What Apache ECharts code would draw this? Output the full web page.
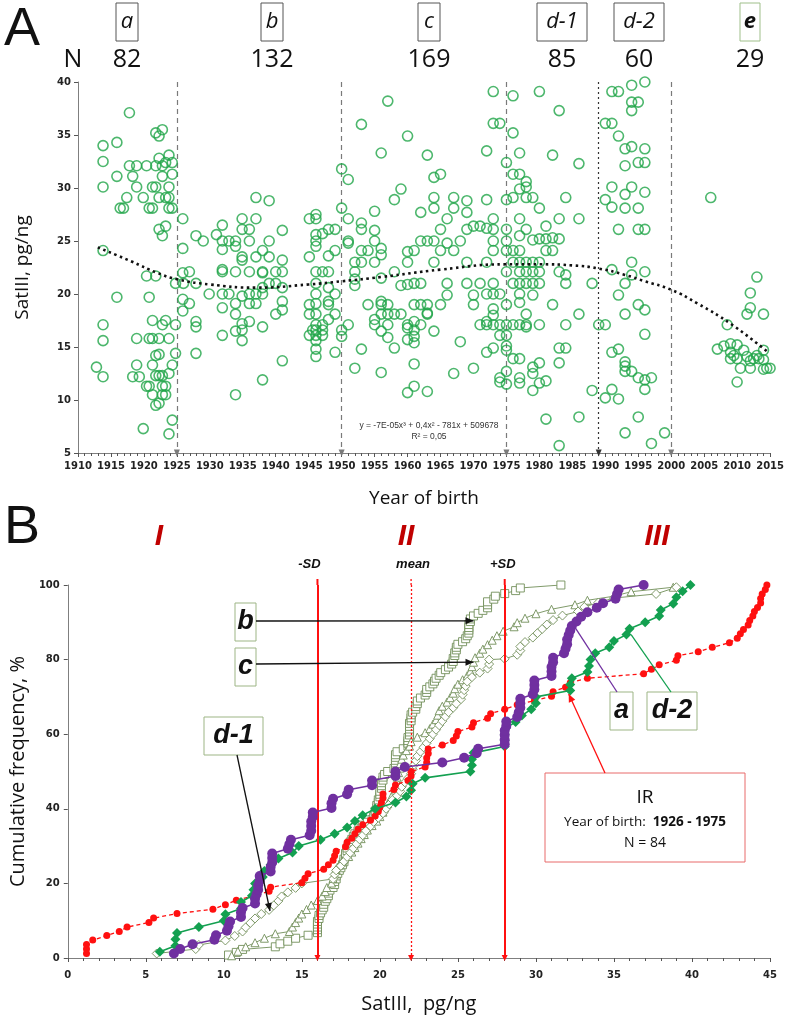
<!DOCTYPE html>
<html><head><meta charset="utf-8">
<script src="https://cdn.jsdelivr.net/npm/echarts@6/dist/echarts.min.js"></script>
<style>html,body{margin:0;padding:0;background:#fff}#c{width:787px;height:1015px}</style>
</head><body><div id="c"></div>
<script>
// ---------- Panel A data: [year of birth, SatIII pg/ng] ----------
var groupA = [[1912.8,13.1],[1913.8,12.2],[1913.8,15.6],[1913.8,17.1],[1913.8,24.1],[1913.8,30.1],[1913.8,32.5],[1913.8,34.0],[1915.9,34.3],[1915.9,31.1],[1915.9,19.7],[1916.4,28.1],[1916.9,28.1],[1917.4,29.1],[1917.8,37.1],[1917.8,32.1],[1918.3,12.2],[1918.9,32.1],[1918.3,31.1],[1918.9,30.1],[1918.9,13.3],[1918.9,15.8],[1919.3,12.2],[1919.9,29.1],[1919.9,7.3],[1920.4,32.1],[1920.4,21.7],[1920.4,11.3],[1920.8,11.3],[1920.8,28.1],[1920.8,19.7],[1920.8,15.8],[1921.3,28.1],[1921.3,30.1],[1921.3,17.5],[1921.3,15.8],[1921.3,13.3],[1921.3,10.5],[1921.8,32.1],[1921.8,35.2],[1921.8,30.1],[1921.8,21.7],[1921.8,14.2],[1921.8,12.3],[1921.8,9.5],[1922.3,34.9],[1922.3,32.8],[1922.3,29.1],[1922.3,26.1],[1922.3,15.8],[1922.3,14.3],[1922.3,12.3],[1922.3,9.7],[1922.8,35.5],[1922.8,32.1],[1922.8,31.1],[1922.8,25.5],[1922.8,17.1],[1922.8,12.3],[1922.8,11.3],[1922.8,10.5],[1923.3,32.4],[1923.3,29.1],[1923.3,26.4],[1923.3,17.5],[1923.3,11.3],[1923.3,10.5],[1923.8,33.1],[1923.8,30.1],[1923.8,28.1],[1923.8,29.1],[1923.8,15.8],[1923.8,12.5],[1923.8,6.8],[1924.3,32.4],[1924.3,31.3],[1924.3,28.1],[1924.3,13.3],[1924.3,8.1],[1924.8,21.0],[1924.8,17.1],[1924.8,14.4]];
var groupB = [[1925.9,27.1],[1925.9,24.3],[1925.9,22.0],[1925.9,19.5],[1925.9,18.4],[1926.0,21.0],[1926.9,22.1],[1926.9,19.1],[1927.9,25.5],[1927.9,21.0],[1927.9,17.4],[1927.9,16.9],[1927.9,14.4],[1929.0,25.0],[1929.9,20.0],[1931.0,25.6],[1931.9,26.5],[1931.9,25.0],[1931.9,24.2],[1931.9,22.3],[1931.9,22.1],[1931.9,20.0],[1931.9,18.7],[1931.9,16.1],[1932.9,25.0],[1932.9,20.0],[1933.9,25.0],[1933.9,24.5],[1933.9,22.1],[1933.9,19.1],[1933.9,18.1],[1933.9,16.5],[1933.9,10.5],[1934.9,27.1],[1934.9,26.1],[1934.9,23.5],[1934.9,23.2],[1934.9,19.8],[1934.9,17.2],[1934.9,16.6],[1934.9,15.6],[1936.0,26.1],[1936.0,25.0],[1936.0,22.1],[1936.0,20.0],[1936.0,19.1],[1936.0,17.4],[1937.0,29.1],[1937.0,27.1],[1937.0,23.5],[1937.0,20.0],[1937.0,19.1],[1938.0,24.1],[1938.0,22.1],[1938.0,22.0],[1938.0,20.6],[1938.0,20.0],[1938.0,16.9],[1938.0,11.9],[1939.0,28.8],[1939.0,25.0],[1939.0,23.5],[1939.0,21.0],[1940.0,22.1],[1940.0,21.0],[1940.0,18.1],[1941.0,26.0],[1941.0,23.2],[1941.0,22.1],[1941.0,20.6],[1941.0,19.3],[1941.0,18.5],[1941.0,13.7],[1945.1,27.1],[1945.1,23.5],[1945.1,18.1],[1945.1,16.1],[1945.6,16.6],[1945.1,19.0],[1946.1,27.5],[1946.1,27.1],[1946.1,25.6],[1946.1,25.0],[1946.1,24.5],[1946.1,22.1],[1946.1,21.0],[1946.1,20.0],[1946.1,19.1],[1946.1,18.1],[1946.1,17.1],[1946.1,16.6],[1946.1,16.1],[1946.1,15.6],[1946.1,14.8],[1946.1,14.1],[1947.1,17.1],[1947.1,16.6],[1947.1,16.1],[1947.1,25.7],[1947.1,22.1],[1948.0,23.6],[1948.0,22.1],[1948.0,20.6],[1948.0,19.3],[1948.0,19.0],[1948.0,17.6],[1948.0,26.1],[1949.0,26.1],[1949.0,24.1],[1949.0,20.0],[1949.0,18.1],[1949.0,14.5]];
var groupC = [[1950,31.8],[1951,30.8],[1950,28.1],[1951,27.1],[1951,25.0],[1951,24.8],[1952,23.0],[1952,22.1],[1952,21.4],[1952,20.8],[1951,17.1],[1950,16.6],[1950,16.0],[1952,13.0],[1953,36.0],[1953,26.7],[1953,26.1],[1953,24.1],[1953,23.0],[1954,24.1],[1954,19.0],[1953,14.8],[1955,27.8],[1955,26.0],[1955,25.0],[1955,23.0],[1955,17.6],[1955,17.1],[1956,33.3],[1956,24.3],[1956,23.7],[1956,21.5],[1956,19.3],[1956,19.0],[1956,18.1],[1956,16.5],[1956,12.6],[1957,38.2],[1957,19.0],[1957,18.1],[1957,17.1],[1957,15.9],[1958,28.9],[1958,22.1],[1958,18.1],[1958,14.9],[1959,29.9],[1959,20.8],[1959,18.1],[1960,34.9],[1960,24.0],[1960,23.0],[1960,20.9],[1960,17.1],[1960,16.8],[1960,15.7],[1960,10.7],[1961,24.1],[1961,21.0],[1961,19.0],[1961,17.4],[1961,16.6],[1961,16.0],[1961,15.4],[1961,13.4],[1961,11.3],[1962,27.7],[1962,25.0],[1962,21.0],[1962,19.0],[1962,17.1],[1963,33.1],[1963,25.0],[1963,19.0],[1963,18.2],[1963,18.1],[1963,10.8],[1964,31.0],[1964,29.1],[1964,28.1],[1964,25.0],[1964,23.0],[1964,16.5],[1965,31.3],[1965,26.1],[1965,24.1],[1965,19.0],[1966,27.1],[1966,24.8],[1966,21.0],[1966,19.9],[1967,29.1],[1967,28.1],[1967,24.1],[1967,12.5],[1968,25.0],[1968,15.5],[1969,28.8],[1969,27.7],[1969,26.1],[1969,23.0],[1969,21.0],[1970,26.4],[1970,19.9],[1970,19.0],[1970,13.0],[1971,26.4],[1971,21.0],[1971,17.1],[1972,33.5],[1972,28.9],[1972,26.2],[1972,23.0],[1972,20.0],[1972,17.4],[1972,17.1],[1972,14.5],[1973,39.1],[1973,36.1],[1973,27.1],[1973,26.1],[1973,25.0],[1973,24.1],[1973,21.0],[1973,20.0],[1973,18.6],[1973,18.0],[1973,17.1],[1973,14.9],[1974,36.1],[1974,20.0],[1974,17.1],[1974,16.1],[1974,12.1],[1974,11.7]];
var groupD1 = [[1975,32.4],[1975,28.9],[1975,26.1],[1975,25.0],[1975,24.1],[1975,22.1],[1975,19.0],[1975,17.1],[1975,16.1],[1975,15.1],[1975,14.7],[1975,12.7],[1975,11.5],[1976,38.7],[1976,35.2],[1976,31.3],[1976,29.1],[1976,24.1],[1976,23.0],[1976,21.0],[1976,17.1],[1976,13.9],[1977,33.3],[1977,31.3],[1977,29.9],[1977,27.1],[1977,25.5],[1977,24.1],[1977,23.0],[1977,22.1],[1977,21.0],[1977,20.0],[1977,19.2],[1977,17.1],[1977,13.9],[1977,12.1],[1977,11.6],[1978,30.6],[1978,30.1],[1978,29.1],[1978,26.1],[1978,23.0],[1978,22.1],[1978,21.0],[1978,18.1],[1978,17.1],[1978,16.9],[1979,29.1],[1979,25.1],[1979,23.0],[1979,22.1],[1979,21.0],[1979,19.9],[1979,13.1],[1979,12.5],[1979,10.9],[1980,39.1],[1980,28.1],[1980,25.2],[1980,23.0],[1980,22.1],[1980,21.0],[1980,17.1],[1980,13.5],[1980,11.6],[1981,26.4],[1981,25.2],[1981,24.1],[1981,11.8],[1981,8.2],[1982,33.1],[1982,25.3],[1982,24.1],[1982,19.0],[1983,37.3],[1983,27.1],[1983,25.2],[1983,22.1],[1983,14.9],[1983,13.5],[1983,5.7],[1984,29.1],[1984,21.8],[1984,21.0],[1984,17.1],[1984,14.9],[1986,32.3],[1986,27.1],[1986,18.1],[1986,8.4],[1988,21.0],[1988,10.9],[1989,17.1]];
var groupD2 = [[1990,36.1],[1990,17.1],[1990,10.2],[1990,28.9],[1991,39.1],[1991,36.1],[1991,30.1],[1991,28.2],[1991,22.3],[1991,14.5],[1991,11.0],[1992,39.1],[1992,34.9],[1992,26.1],[1992,19.9],[1992,14.8],[1992,10.1],[1993,33.7],[1993,32.1],[1993,29.4],[1993,28.1],[1993,21.0],[1993,18.1],[1993,13.6],[1993,13.2],[1993,12.7],[1993,6.9],[1994,39.7],[1994,38.1],[1994,37.3],[1994,33.9],[1994,30.1],[1994,23.0],[1994,21.8],[1994,12.7],[1995,38.1],[1995,32.4],[1995,28.1],[1995,26.1],[1995,19.0],[1995,12.1],[1995,8.4],[1996,40.0],[1996,33.7],[1996,32.4],[1996,29.6],[1996,26.1],[1996,22.1],[1996,18.5],[1996,16.2],[1996,11.9],[1996,11.0],[1997,12.1],[1997,5.9],[1999,6.9]];
var groupE = [[2006.0,29.1],[2013.0,21.6],[2012.0,20.1],[2012.0,18.7],[2011.5,18.1],[2014.0,18.1],[2008.5,17.1],[2007.0,14.8],[2008.0,15.1],[2009.0,15.3],[2010.0,15.2],[2009.0,14.5],[2011.0,14.7],[2009.5,14.2],[2009.0,13.9],[2010.0,13.9],[2011.5,14.1],[2012.0,13.7],[2012.5,13.9],[2013.0,14.2],[2013.3,13.9],[2014.0,14.7],[2014.0,13.8],[2010.5,13.0],[2012.0,13.0],[2014.0,12.9],[2014.5,13.0],[2015.0,13.0],[2010.0,11.7]];
var trendLine = [[1913,24.4],[1918,23.1],[1922,22.0],[1925,21.4],[1930,20.9],[1937,20.6],[1945,20.9],[1950,21.2],[1956,21.6],[1965,22.3],[1975,22.8],[1980,22.8],[1985,22.7],[1989,22.4],[1993,21.8],[1996,21.2],[2000,20.4],[2004,19.1],[2009,17.2],[2014.5,14.6]];
var groupBounds = [1925, 1950, 1975, 1989, 2000];
var groupNames = ['a', 'b', 'c', 'd-1', 'd-2', 'e'];
var groupN = ['82', '132', '169', '85', '60', '29'];
var yearTicks = {min: 1910, max: 2015, step: 5};
var satTicks = {min: 5, max: 40, step: 5};

// ---------- Panel B data: [SatIII pg/ng, cumulative frequency %] ----------
var cumIR = [[1.2,1.2],[1.2,2.4],[1.2,3.6],[1.6,4.8],[2.5,6.0],[3.3,7.1],[3.8,8.3],[5.2,9.5],[5.5,10.7],[7.0,11.9],[9.3,13.1],[10.1,14.3],[10.8,15.5],[12.0,16.7],[12.9,17.9],[13.0,19.0],[15.0,20.2],[15.2,21.4],[15.4,22.6],[16.4,23.8],[16.7,25.0],[17.0,26.2],[17.1,27.4],[17.2,28.6],[17.8,29.8],[17.9,31.0],[18.2,32.1],[18.4,33.3],[18.6,34.5],[18.9,35.7],[19.4,36.9],[19.7,38.1],[19.9,39.3],[20.0,40.5],[20.1,41.7],[20.2,42.9],[20.2,44.0],[20.9,45.2],[21.0,46.4],[21.8,47.6],[22.0,48.8],[22.0,50.0],[22.9,51.2],[23.0,52.4],[23.0,53.6],[23.1,54.8],[23.1,56.0],[24.0,57.1],[24.7,58.3],[24.9,59.5],[25.0,60.7],[25.9,61.9],[26.0,63.1],[26.9,64.3],[27.1,65.5],[28.0,66.7],[28.8,67.9],[29.9,69.0],[31.0,70.2],[31.1,71.4],[31.9,72.6],[32.2,73.8],[33.3,75.0],[36.9,76.2],[37.4,77.4],[37.9,78.6],[39.0,79.8],[39.1,81.0],[40.4,82.1],[41.3,83.3],[42.4,84.5],[42.9,85.7],[43.1,86.9],[43.3,88.1],[43.6,89.3],[43.7,90.5],[43.9,91.7],[44.0,92.9],[44.2,94.0],[44.4,95.2],[44.4,96.4],[44.5,97.6],[44.7,98.8],[44.8,100]];
var cumA = [[6.8,1.2],[7.2,2.4],[8.0,3.7],[9.4,4.9],[9.5,6.1],[10.2,7.3],[10.3,8.5],[10.4,9.8],[11.1,11.0],[11.1,12.2],[11.2,13.4],[12.0,14.6],[12.0,15.9],[12.1,17.1],[12.2,18.3],[12.2,19.5],[12.3,20.7],[12.3,22.0],[13.0,23.2],[13.0,24.4],[13.1,25.6],[13.1,26.8],[13.1,28.0],[14.1,29.3],[14.2,30.5],[14.3,31.7],[15.5,32.9],[15.6,34.1],[15.6,35.4],[15.6,36.6],[15.7,37.8],[15.7,39.0],[16.9,40.2],[16.9,41.5],[17.0,42.7],[17.9,43.9],[18.0,45.1],[19.5,46.3],[19.5,47.6],[21.0,48.8],[21.0,50.0],[21.6,51.2],[24.0,52.4],[25.4,53.7],[26.2,54.9],[26.3,56.1],[28.0,57.3],[28.0,58.5],[28.0,59.8],[28.0,61.0],[28.1,62.2],[28.1,63.4],[28.8,64.6],[28.9,65.9],[29.0,67.1],[29.0,68.3],[29.0,69.5],[29.8,70.7],[29.9,72.0],[29.9,73.2],[29.9,74.4],[31.0,75.6],[31.0,76.8],[31.0,78.0],[31.1,79.3],[31.1,80.5],[31.8,81.7],[31.9,82.9],[32.0,84.1],[32.0,85.4],[32.1,86.6],[32.2,87.8],[32.3,89.0],[32.6,90.2],[32.9,91.5],[33.3,92.7],[33.9,93.9],[34.3,95.1],[35.1,96.3],[35.2,97.6],[35.3,98.8],[36.9,100]];
var cumD2 = [[5.9,1.7],[6.9,3.3],[6.9,5.0],[7.0,6.7],[8.4,8.3],[10.0,10.0],[10.1,11.7],[11.1,13.3],[11.1,15.0],[11.8,16.7],[11.9,18.3],[12.0,20.0],[12.5,21.7],[12.6,23.3],[13.0,25.0],[13.5,26.7],[14.4,28.3],[14.8,30.0],[16.2,31.7],[17.1,33.3],[17.9,35.0],[18.4,36.7],[18.9,38.3],[19.7,40.0],[21.0,41.7],[21.7,43.3],[22.0,45.0],[22.1,46.7],[22.9,48.3],[25.8,50.0],[25.9,51.7],[25.9,53.3],[26.0,55.0],[28.0,56.7],[28.0,58.3],[28.0,60.0],[28.1,61.7],[28.7,63.3],[29.1,65.0],[29.7,66.7],[30.0,68.3],[30.0,70.0],[32.2,71.7],[32.2,73.3],[32.3,75.0],[33.3,76.7],[33.4,78.3],[33.5,80.0],[33.8,81.7],[34.7,83.3],[35.0,85.0],[35.8,86.7],[36.0,88.3],[37.0,90.0],[37.9,91.7],[38.0,93.3],[38.8,95.0],[39.0,96.7],[39.4,98.3],[39.9,100]];
var cumB = [[10.3,0.8],[10.8,1.5],[11.2,2.3],[13.3,3.0],[13.6,3.8],[14.1,4.5],[14.6,5.3],[15.4,6.1],[16.0,6.8],[16.0,7.6],[16.0,8.3],[16.0,9.1],[16.0,9.8],[16.1,10.6],[16.1,11.4],[16.2,12.1],[16.3,12.9],[16.4,13.6],[16.4,14.4],[16.5,15.2],[16.6,15.9],[16.7,16.7],[16.7,17.4],[16.8,18.2],[17.0,18.9],[17.1,19.7],[17.1,20.5],[17.2,21.2],[17.2,22.0],[17.3,22.7],[17.4,23.5],[17.5,24.2],[17.6,25.0],[17.7,25.8],[17.7,26.5],[17.8,27.3],[17.8,28.0],[17.9,28.8],[17.9,29.5],[18.0,30.3],[18.1,31.1],[18.2,31.8],[18.3,32.6],[18.4,33.3],[18.6,34.1],[18.8,34.8],[18.9,35.6],[19.2,36.4],[19.5,37.1],[19.6,37.9],[19.7,38.6],[19.7,39.4],[19.8,40.2],[19.8,40.9],[19.9,41.7],[19.9,42.4],[20.0,43.2],[20.0,43.9],[20.0,44.7],[20.1,45.5],[20.1,46.2],[20.1,47.0],[20.2,47.7],[20.2,48.5],[20.3,49.2],[20.5,50.0],[20.9,50.8],[21.0,51.5],[21.0,52.3],[21.0,53.0],[21.0,53.8],[21.0,54.5],[21.1,55.3],[21.5,56.1],[21.8,56.8],[21.8,57.6],[21.8,58.3],[21.8,59.1],[21.9,59.8],[21.9,60.6],[21.9,61.4],[21.9,62.1],[21.9,62.9],[22.0,63.6],[22.0,64.4],[22.0,65.2],[22.1,65.9],[22.3,66.7],[22.3,67.4],[22.4,68.2],[22.4,68.9],[22.6,69.7],[22.9,70.5],[23.0,71.2],[23.0,72.0],[23.2,72.7],[23.4,73.5],[23.5,74.2],[23.6,75.0],[23.8,75.8],[23.9,76.5],[24.2,77.3],[24.4,78.0],[24.6,78.8],[24.7,79.5],[24.7,80.3],[24.8,81.1],[24.8,81.8],[24.9,82.6],[24.9,83.3],[25.0,84.1],[25.3,84.8],[25.5,85.6],[25.6,86.4],[25.7,87.1],[25.7,87.9],[25.7,88.6],[25.7,89.4],[25.8,90.2],[25.8,90.9],[26.0,91.7],[26.3,92.4],[26.6,93.2],[26.9,93.9],[26.9,94.7],[26.9,95.5],[27.3,96.2],[27.4,97.0],[28.0,97.7],[28.7,98.5],[29.0,99.2],[31.6,100]];
var cumC = [[10.5,0.6],[10.9,1.8],[11.4,3.0],[12.0,4.1],[12.6,5.3],[13.3,6.5],[14.2,7.1],[14.4,8.3],[14.6,9.5],[14.8,10.7],[15.0,11.8],[15.3,13.0],[15.6,14.2],[16.0,15.4],[16.3,16.6],[16.5,17.8],[16.6,18.9],[16.9,20.1],[17.0,21.3],[17.1,22.5],[17.2,23.7],[17.4,24.9],[17.6,26.0],[18.0,27.2],[18.2,28.4],[18.4,29.6],[18.6,30.8],[18.8,32.0],[19.0,33.1],[19.2,34.3],[19.5,35.5],[19.8,36.7],[20.0,37.9],[20.2,39.1],[20.3,40.2],[20.5,41.4],[20.7,42.6],[20.8,43.8],[21.0,45.0],[21.0,46.2],[21.1,47.3],[21.1,48.5],[21.2,49.7],[21.3,50.9],[21.3,52.1],[21.4,53.3],[21.5,54.4],[21.7,55.6],[21.9,56.8],[22.0,58.0],[22.4,59.2],[22.9,60.4],[23.2,61.5],[23.4,62.7],[23.6,63.9],[23.7,65.1],[23.8,66.3],[24.0,67.5],[24.3,68.6],[24.5,69.8],[24.7,71.0],[24.8,72.2],[25.0,73.4],[25.3,74.6],[25.6,75.7],[25.8,76.9],[25.9,78.1],[26.0,79.3],[26.1,80.5],[26.4,81.7],[26.6,82.8],[26.9,84.0],[27.2,85.2],[27.5,86.4],[27.9,87.6],[28.6,88.8],[28.8,89.9],[29.3,91.1],[30.0,92.3],[31.0,93.5],[32.5,94.7],[33.3,95.9],[35.0,97.0],[36.1,98.2],[38.8,99.4]];
var cumD1 = [[5.7,1.2],[8.2,2.4],[8.4,3.5],[10.1,4.7],[10.7,5.9],[11.2,7.1],[11.4,8.2],[11.7,9.4],[12.0,10.6],[12.4,11.8],[12.9,12.9],[13.2,14.1],[13.5,15.3],[13.7,16.5],[14.1,17.6],[14.6,18.8],[15.0,20.0],[17.0,21.2],[17.1,22.4],[17.2,23.5],[17.5,24.7],[17.7,25.9],[17.9,27.1],[18.1,28.2],[18.3,29.4],[18.5,30.6],[18.7,31.8],[18.9,32.9],[19.1,34.1],[19.4,35.3],[19.6,36.5],[19.9,37.6],[20.2,38.8],[20.4,40.0],[20.6,41.2],[20.8,42.4],[21.1,43.5],[21.3,44.7],[21.4,45.9],[21.6,47.1],[21.8,48.2],[22.0,49.4],[22.1,50.6],[22.2,51.8],[22.3,52.9],[22.4,54.1],[22.6,55.3],[22.8,56.5],[23.0,57.6],[23.2,58.8],[23.4,60.0],[23.6,61.2],[23.8,62.4],[24.0,63.5],[24.2,64.7],[24.4,65.9],[24.7,67.1],[24.9,68.2],[25.2,69.4],[25.3,70.6],[25.4,71.8],[25.5,72.9],[25.6,74.1],[25.9,75.3],[26.4,76.5],[26.9,77.6],[27.0,78.8],[27.0,80.0],[28.0,80.2],[28.8,81.3],[29.0,82.4],[29.0,83.5],[29.3,84.7],[29.8,85.9],[30.1,87.1],[30.4,88.2],[30.7,89.4],[31.1,90.6],[31.7,91.8],[32.7,92.9],[33.1,94.1],[34.0,95.3],[35.0,96.5],[37.7,97.6],[39.0,99.4]];
var sdLines = {minusSD: 16, mean: 22, plusSD: 28};
var satBTicks = {min: 0, max: 45, step: 5};
var cumTicks = {min: 0, max: 100, step: 20};

// ---------- Rendering ----------
var chart = echarts.init(document.getElementById('c'), null, {renderer: 'canvas'});
var GREEN = '#21a548', OLIVE = '#728f59', PURPLE = '#7030a0', DGREEN = '#13a050', RED = '#ff1010', DRED = '#c00000';
var tickFont = {fontFamily: 'DejaVu Sans', fontWeight: 'bold', fontSize: 10, color: '#222', formatter: function (v) { return String(v); }};
var axisLineGray = {lineStyle: {color: '#7f7f7f', width: 1}};

function scatterSeries(data) {
  return {type: 'scatter', xAxisIndex: 0, yAxisIndex: 0, data: data, symbol: 'circle', symbolSize: 10,
    itemStyle: {color: 'rgba(255,255,255,0)', borderColor: GREEN, borderWidth: 1.6}, silent: true, z: 3};
}
var boundLines = groupBounds.map(function (b, i) {
  return [{coord: [b, 40], lineStyle: {type: i === 3 ? [2, 3] : [5, 4], color: i === 3 ? '#333' : '#7a7a7a', width: 1.2}},
          {coord: [b, 5]}];
});
function vLine(x, dotted) {
  return [{coord: [x, 100], lineStyle: {type: dotted ? [2, 2] : 'solid', color: RED, width: dotted ? 1.3 : 2}}, {coord: [x, 0]}];
}
function cumSeries(data, opt) {
  return Object.assign({type: 'line', xAxisIndex: 1, yAxisIndex: 1, data: data, silent: true, animation: false}, opt);
}

var option = {
  animation: false,
  grid: [
    {left: 78, right: 11, top: 82, height: 371},
    {left: 65, right: 17, top: 585, height: 375}
  ],
  xAxis: [
    {gridIndex: 0, type: 'value', min: yearTicks.min, max: yearTicks.max, interval: yearTicks.step,
      axisLine: axisLineGray, axisTick: {length: 4, lineStyle: {color: '#555'}},
      minorTick: {show: true, splitNumber: 5, length: 3, lineStyle: {color: '#555'}},
      splitLine: {show: false}, axisLabel: Object.assign({margin: 8}, tickFont),
      name: 'Year of birth', nameLocation: 'middle', nameGap: 36,
      nameTextStyle: {fontFamily: 'Open Sans', fontSize: 19, color: '#111'}},
    {gridIndex: 1, type: 'value', min: satBTicks.min, max: satBTicks.max, interval: satBTicks.step,
      axisLine: axisLineGray, axisTick: {length: 4, lineStyle: {color: '#555'}},
      minorTick: {show: true, splitNumber: 5, length: 3, lineStyle: {color: '#555'}},
      splitLine: {show: false}, axisLabel: Object.assign({margin: 12}, tickFont),
      name: 'SatIII,  pg/ng', nameLocation: 'middle', nameGap: 36,
      nameTextStyle: {fontFamily: 'Open Sans', fontSize: 20, color: '#111'}}
  ],
  yAxis: [
    {gridIndex: 0, type: 'value', min: satTicks.min, max: satTicks.max, interval: satTicks.step,
      axisLine: Object.assign({show: true}, axisLineGray), axisTick: {show: true, length: 4, lineStyle: {color: '#555'}},
      splitLine: {show: false}, axisLabel: Object.assign({margin: 7}, tickFont),
      name: 'SatIII, pg/ng', nameLocation: 'middle', nameGap: 46, nameRotate: 90,
      nameTextStyle: {fontFamily: 'Open Sans', fontSize: 19, color: '#111'}},
    {gridIndex: 1, type: 'value', min: cumTicks.min, max: cumTicks.max, interval: cumTicks.step,
      axisLine: Object.assign({show: true}, axisLineGray), axisTick: {show: true, length: 4, lineStyle: {color: '#555'}},
      splitLine: {show: false}, axisLabel: Object.assign({margin: 8}, tickFont),
      name: 'Cumulative frequency, %', nameLocation: 'middle', nameGap: 32, nameRotate: 90,
      nameTextStyle: {fontFamily: 'Open Sans', fontSize: 20, color: '#111'}}
  ],
  series: [
    scatterSeries(groupA), scatterSeries(groupB), scatterSeries(groupC),
    scatterSeries(groupD1), scatterSeries(groupD2), scatterSeries(groupE),
    {type: 'line', xAxisIndex: 0, yAxisIndex: 0, data: trendLine, smooth: 0.5, symbol: 'none', silent: true, z: 4,
      lineStyle: {color: '#111', width: 2.6, type: [2.5, 3.5]},
      markLine: {silent: true, symbol: ['none', 'triangle'], symbolSize: [6, 7], label: {show: false}, z: 2,
        data: boundLines}},
    cumSeries(cumB, {symbol: 'rect', symbolSize: 8, showAllSymbol: true,
      itemStyle: {color: '#fff', borderColor: OLIVE, borderWidth: 0.9}, lineStyle: {color: OLIVE, width: 0.9}, z: 2}),
    cumSeries(cumC, {symbol: 'triangle', symbolSize: 8, showAllSymbol: true,
      itemStyle: {color: '#fff', borderColor: OLIVE, borderWidth: 0.9}, lineStyle: {color: OLIVE, width: 0.9}, z: 2}),
    cumSeries(cumD1, {symbol: 'diamond', symbolSize: 9, showAllSymbol: true,
      itemStyle: {color: '#fff', borderColor: OLIVE, borderWidth: 0.9}, lineStyle: {color: OLIVE, width: 0.9}, z: 2}),
    cumSeries(cumIR, {symbol: 'circle', symbolSize: 7, showAllSymbol: true,
      itemStyle: {color: RED}, lineStyle: {color: RED, width: 1.3, type: [4, 3]}, z: 3}),
    cumSeries(cumD2, {symbol: 'diamond', symbolSize: 10, showAllSymbol: true,
      itemStyle: {color: DGREEN}, lineStyle: {color: DGREEN, width: 1.6}, z: 4}),
    cumSeries(cumA, {symbol: 'circle', symbolSize: 10, showAllSymbol: true,
      itemStyle: {color: PURPLE}, lineStyle: {color: PURPLE, width: 1.6}, z: 5}),
    {type: 'line', xAxisIndex: 1, yAxisIndex: 1, data: [], silent: true, z: 6,
      markLine: {silent: true, symbol: ['none', 'triangle'], symbolSize: [6, 6], label: {show: false},
        data: [vLine(sdLines.minusSD, false), vLine(sdLines.mean, true), vLine(sdLines.plusSD, false)]}}
  ]
};
chart.setOption(option);

// ---------- Annotations ----------
function txt(x, y, s, style) {
  return {type: 'text', x: x, y: y, silent: true, z: 20,
    style: Object.assign({text: s, fill: '#111', align: 'center', verticalAlign: 'middle', fontFamily: 'Open Sans'}, style)};
}
function box(x, y, w, h, stroke) {
  return {type: 'rect', shape: {x: x, y: y, width: w, height: h}, silent: true, z: 19,
    style: {fill: '#fff', stroke: stroke || '#444', lineWidth: 1}};
}
function arrow(p0, p1, color, head) {
  var els = [{type: 'line', shape: {x1: p0[0], y1: p0[1], x2: p1[0], y2: p1[1]}, silent: true, z: 21,
    style: {stroke: color, lineWidth: 1.3}}];
  if (head) {
    var a = Math.atan2(p1[1] - p0[1], p1[0] - p0[0]), L = 8, W = 3.5;
    var bx = p1[0] - L * Math.cos(a), by = p1[1] - L * Math.sin(a);
    els.push({type: 'polygon', silent: true, z: 21, shape: {points: [[p1[0], p1[1]],
      [bx + W * Math.sin(a), by - W * Math.cos(a)], [bx - W * Math.sin(a), by + W * Math.cos(a)]]},
      style: {fill: color}});
  }
  return els;
}
function px(pt) { return chart.convertToPixel({xAxisIndex: 1, yAxisIndex: 1}, pt); }

var g = [];
// Panel A header
g.push(txt(22, 30, 'A', {fontFamily: 'Liberation Sans', fontSize: 54, align: 'center'}));
g.push(txt(73, 60, 'N', {fontSize: 25}));
var hdrX = [127, 272, 429, 562, 639, 750];
var hdrW = [22, 22, 22, 50, 50, 20];
for (var i = 0; i < groupNames.length; i++) {
  g.push(box(hdrX[i] - hdrW[i] / 2, 3, hdrW[i], 38, i === 5 ? '#9fbf8a' : '#555'));
  g.push(txt(hdrX[i], 22, groupNames[i], {fontSize: 22, fontStyle: 'italic', fontWeight: i === 5 ? 'bold' : 'normal'}));
  g.push(txt(hdrX[i], 60, groupN[i], {fontSize: 25}));
}
g.push(txt(429, 426, 'y = -7E-05x\u00b3 + 0,4x\u00b2 - 781x + 509678', {fontSize: 8.5, fontFamily: 'Liberation Sans', fill: '#333'}));
g.push(txt(429, 437, 'R\u00b2 = 0,05', {fontSize: 8.5, fontFamily: 'Liberation Sans', fill: '#333'}));

// Panel B header
g.push(txt(22, 528, 'B', {fontFamily: 'Liberation Sans', fontSize: 54}));
var romX = [159, 406, 657];
['I', 'II', 'III'].forEach(function (r, k) {
  g.push(txt(romX[k], 537, r, {fontSize: 30, fontStyle: 'italic', fontWeight: 'bold', fill: DRED, fontFamily: 'Liberation Sans'}));
});
var sdVals = [sdLines.minusSD, sdLines.mean, sdLines.plusSD];
var sdOff = [-8, 2, -2];
['-SD', 'mean', '+SD'].forEach(function (s, k) {
  var top = px([sdVals[k], 100]);
  g.push(txt(top[0] + sdOff[k], 564, s, {fontSize: 13, fontStyle: 'italic', fontWeight: 'bold', fontFamily: 'Liberation Sans'}));
  g.push({type: 'line', silent: true, z: 6, shape: {x1: top[0], y1: top[1] - 6, x2: top[0], y2: top[1]},
    style: {stroke: RED, lineWidth: k === 1 ? 1.3 : 2, lineDash: k === 1 ? [2, 2] : null}});
});

// labelled curve boxes (pixel boxes, arrow tips in data coordinates)
var lblStyle = {fontSize: 27, fontStyle: 'italic', fontWeight: 'bold', fontFamily: 'Liberation Sans'};
var BOXC = '#9db585';
g.push(box(235, 603, 21, 38, BOXC)); g.push(txt(245.5, 622, 'b', lblStyle));
g = g.concat(arrow([256, 621], px([26.0, 90.4]), '#111', true));
g.push(box(235, 648, 21, 38, BOXC)); g.push(txt(245.5, 667, 'c', lblStyle));
g = g.concat(arrow([256, 664], px([26.0, 79.3]), '#111', true));
g.push(box(204, 717, 59, 38, BOXC)); g.push(txt(233.5, 736, 'd-1', lblStyle));
g = g.concat(arrow([237, 755], px([12.96, 12.6]), '#111', true));
g = g.concat(arrow([617, 692], px([32.4, 89.3]), PURPLE, false));
g.push(box(610, 692, 23, 38, BOXC)); g.push(txt(621.5, 711, 'a', lblStyle));
g = g.concat(arrow([671, 692], px([36.1, 86.7]), DGREEN, false));
g.push(box(647, 692, 50, 38, BOXC)); g.push(txt(672, 711, 'd-2', lblStyle));
g = g.concat(arrow([605, 773], px([32.1, 70.8]), RED, true));
g.push(box(545, 773, 200, 89, '#e86a6a'));
g.push(txt(645, 798, 'IR', {fontSize: 19}));
g.push({type: 'text', x: 645, y: 822, silent: true, z: 20, style: {
  text: '{n|Year of birth:  }{b|1926 - 1975}', align: 'center', verticalAlign: 'middle',
  rich: {n: {fontFamily: 'Open Sans', fontSize: 13.5, fill: '#111'}, b: {fontFamily: 'Open Sans', fontWeight: 'bold', fontSize: 13.5, fill: '#111'}}}});
g.push(txt(645, 843, 'N = 84', {fontSize: 14}));

chart.setOption({graphic: {elements: g}});
</script></body></html>
